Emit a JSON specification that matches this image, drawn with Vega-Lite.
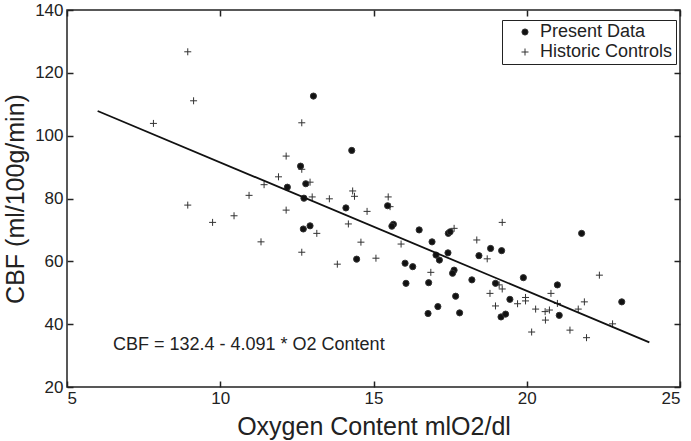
{
  "$schema": "https://vega.github.io/schema/vega-lite/v6.json",
  "width": 613,
  "height": 377,
  "autosize": "none",
  "padding": {"left": 67, "top": 10, "right": 11, "bottom": 54},
  "background": "white",
  "config": {
    "view": {"stroke": "#222", "strokeWidth": 1.5},
    "font": "Liberation Sans",
    "axis": {
      "grid": false,
      "domain": false,
      "tickColor": "#222",
      "tickWidth": 1.5,
      "tickSize": -6,
      "labelFont": "Liberation Sans",
      "labelFontSize": 17,
      "labelColor": "#222",
      "titleFont": "Liberation Sans",
      "titleFontSize": 25,
      "titleFontWeight": "normal",
      "titleColor": "#222"
    }
  },
  "layer": [
    {
      "data": {"values": [
        {"g": "Historic Controls", "x": 8.94, "y": 126.7},
        {"g": "Historic Controls", "x": 9.13, "y": 111.1},
        {"g": "Historic Controls", "x": 7.82, "y": 103.9},
        {"g": "Historic Controls", "x": 12.15, "y": 93.5},
        {"g": "Historic Controls", "x": 11.9, "y": 86.9},
        {"g": "Historic Controls", "x": 11.43, "y": 84.4},
        {"g": "Historic Controls", "x": 10.94, "y": 81.0},
        {"g": "Historic Controls", "x": 12.66, "y": 104.1},
        {"g": "Historic Controls", "x": 12.66, "y": 89.3},
        {"g": "Historic Controls", "x": 12.93, "y": 85.2},
        {"g": "Historic Controls", "x": 14.32, "y": 82.4},
        {"g": "Historic Controls", "x": 14.38, "y": 80.7},
        {"g": "Historic Controls", "x": 13.0, "y": 80.5},
        {"g": "Historic Controls", "x": 13.56, "y": 79.9},
        {"g": "Historic Controls", "x": 15.48, "y": 80.5},
        {"g": "Historic Controls", "x": 15.54, "y": 77.4},
        {"g": "Historic Controls", "x": 12.15, "y": 76.3},
        {"g": "Historic Controls", "x": 14.79, "y": 75.9},
        {"g": "Historic Controls", "x": 13.15, "y": 68.9},
        {"g": "Historic Controls", "x": 14.18, "y": 71.9},
        {"g": "Historic Controls", "x": 17.63, "y": 70.5},
        {"g": "Historic Controls", "x": 18.37, "y": 66.8},
        {"g": "Historic Controls", "x": 14.59, "y": 66.1},
        {"g": "Historic Controls", "x": 15.9, "y": 65.5},
        {"g": "Historic Controls", "x": 12.66, "y": 62.9},
        {"g": "Historic Controls", "x": 13.82, "y": 59.1},
        {"g": "Historic Controls", "x": 15.08, "y": 61.0},
        {"g": "Historic Controls", "x": 16.87, "y": 56.5},
        {"g": "Historic Controls", "x": 19.2, "y": 72.4},
        {"g": "Historic Controls", "x": 18.71, "y": 60.8},
        {"g": "Historic Controls", "x": 22.37, "y": 55.6},
        {"g": "Historic Controls", "x": 19.1, "y": 52.5},
        {"g": "Historic Controls", "x": 19.2, "y": 51.2},
        {"g": "Historic Controls", "x": 18.8, "y": 49.8},
        {"g": "Historic Controls", "x": 20.79, "y": 49.8},
        {"g": "Historic Controls", "x": 19.96, "y": 48.5},
        {"g": "Historic Controls", "x": 19.96, "y": 47.4},
        {"g": "Historic Controls", "x": 19.7, "y": 46.5},
        {"g": "Historic Controls", "x": 21.0, "y": 46.6},
        {"g": "Historic Controls", "x": 21.88, "y": 47.1},
        {"g": "Historic Controls", "x": 18.98, "y": 45.8},
        {"g": "Historic Controls", "x": 20.29, "y": 44.8},
        {"g": "Historic Controls", "x": 20.6, "y": 44.0},
        {"g": "Historic Controls", "x": 20.74, "y": 44.5},
        {"g": "Historic Controls", "x": 21.68, "y": 44.8},
        {"g": "Historic Controls", "x": 20.61, "y": 41.3},
        {"g": "Historic Controls", "x": 22.8, "y": 40.1},
        {"g": "Historic Controls", "x": 20.16, "y": 37.5},
        {"g": "Historic Controls", "x": 21.41, "y": 38.1},
        {"g": "Historic Controls", "x": 21.95, "y": 35.7},
        {"g": "Historic Controls", "x": 8.94, "y": 77.9},
        {"g": "Historic Controls", "x": 10.45, "y": 74.5},
        {"g": "Historic Controls", "x": 9.75, "y": 72.4},
        {"g": "Historic Controls", "x": 11.33, "y": 66.2},
        {"g": "Present Data", "x": 12.19, "y": 83.6},
        {"g": "Present Data", "x": 13.04, "y": 112.6},
        {"g": "Present Data", "x": 14.29, "y": 95.3},
        {"g": "Present Data", "x": 12.62, "y": 90.3},
        {"g": "Present Data", "x": 12.79, "y": 84.7},
        {"g": "Present Data", "x": 12.73, "y": 80.1},
        {"g": "Present Data", "x": 15.46, "y": 77.7},
        {"g": "Present Data", "x": 14.1, "y": 77.0},
        {"g": "Present Data", "x": 15.65, "y": 71.8},
        {"g": "Present Data", "x": 15.6, "y": 71.2},
        {"g": "Present Data", "x": 12.71, "y": 70.3},
        {"g": "Present Data", "x": 12.93, "y": 71.3},
        {"g": "Present Data", "x": 16.49, "y": 70.0},
        {"g": "Present Data", "x": 17.44, "y": 68.9},
        {"g": "Present Data", "x": 17.5, "y": 69.4},
        {"g": "Present Data", "x": 16.91, "y": 66.2},
        {"g": "Present Data", "x": 17.04, "y": 62.0},
        {"g": "Present Data", "x": 17.43, "y": 62.7},
        {"g": "Present Data", "x": 17.15, "y": 60.4},
        {"g": "Present Data", "x": 18.44, "y": 61.8},
        {"g": "Present Data", "x": 14.45, "y": 60.7},
        {"g": "Present Data", "x": 16.03, "y": 59.4},
        {"g": "Present Data", "x": 16.28, "y": 58.3},
        {"g": "Present Data", "x": 17.63, "y": 57.2},
        {"g": "Present Data", "x": 17.58, "y": 56.2},
        {"g": "Present Data", "x": 18.21, "y": 54.1},
        {"g": "Present Data", "x": 16.06, "y": 53.0},
        {"g": "Present Data", "x": 16.8, "y": 53.2},
        {"g": "Present Data", "x": 17.68, "y": 48.9},
        {"g": "Present Data", "x": 17.1, "y": 45.6},
        {"g": "Present Data", "x": 16.78, "y": 43.4},
        {"g": "Present Data", "x": 17.81, "y": 43.6},
        {"g": "Present Data", "x": 21.79, "y": 68.9},
        {"g": "Present Data", "x": 18.82, "y": 64.1},
        {"g": "Present Data", "x": 19.18, "y": 63.4},
        {"g": "Present Data", "x": 18.98, "y": 53.0},
        {"g": "Present Data", "x": 19.89, "y": 54.8},
        {"g": "Present Data", "x": 21.0, "y": 52.5},
        {"g": "Present Data", "x": 19.45, "y": 47.9},
        {"g": "Present Data", "x": 23.1, "y": 47.1},
        {"g": "Present Data", "x": 19.16, "y": 42.3},
        {"g": "Present Data", "x": 19.31, "y": 43.2},
        {"g": "Present Data", "x": 21.06, "y": 42.8}
      ]},
      "mark": {"type": "point", "filled": true, "stroke": "#333", "strokeWidth": 1, "opacity": 1},
      "encoding": {
        "x": {"field": "x", "type": "quantitative", "scale": {"domain": [5, 25], "nice": false, "zero": false},
              "axis": {"values": [5, 10, 15, 20, 25], "title": "Oxygen Content mlO2/dl", "labelPadding": 9, "titlePadding": 8}},
        "y": {"field": "y", "type": "quantitative", "scale": {"domain": [20, 140], "nice": false, "zero": false},
              "axis": {"values": [20, 40, 60, 80, 100, 120, 140], "title": "CBF (ml/100g/min)", "labelPadding": 10, "titlePadding": 6}},
        "shape": {"field": "g", "type": "nominal",
                  "scale": {"domain": ["Present Data", "Historic Controls"], "range": ["circle", "M-1,0H1M0,-1V1"]},
                  "legend": {"title": null, "orient": "none", "legendX": 435, "legendY": 10,
                             "strokeColor": "#222", "padding": 3, "rowPadding": 2,
                             "labelFontSize": 18, "labelFont": "Liberation Sans", "labelColor": "#222",
                             "symbolSize": 22, "symbolStrokeColor": "#333", "symbolStrokeWidth": 1,
                             "symbolOffset": 11, "labelOffset": 6, "fillColor": "white"}},
        "color": {"field": "g", "type": "nominal",
                  "scale": {"domain": ["Present Data", "Historic Controls"], "range": ["#111", "#444"]},
                  "legend": {"title": null, "orient": "none", "legendX": 435, "legendY": 10,
                             "strokeColor": "#222", "padding": 3, "rowPadding": 2,
                             "labelFontSize": 18, "labelFont": "Liberation Sans", "labelColor": "#222",
                             "symbolSize": 22, "symbolStrokeColor": "#333", "symbolStrokeWidth": 1,
                             "symbolOffset": 11, "labelOffset": 6, "fillColor": "white"}},
        "size": {"field": "g", "type": "nominal",
                 "scale": {"domain": ["Present Data", "Historic Controls"], "range": [38, 49]},
                 "legend": null}
      }
    },
    {
      "data": {"values": [{"x": 6, "y": 107.85}, {"x": 24, "y": 34.22}]},
      "mark": {"type": "line", "color": "#111", "strokeWidth": 1.8},
      "encoding": {
        "x": {"field": "x", "type": "quantitative", "axis": {"orient": "top", "values": [5, 10, 15, 20, 25], "labels": false, "title": null}},
        "y": {"field": "y", "type": "quantitative", "axis": {"orient": "right", "values": [20, 40, 60, 80, 100, 120, 140], "labels": false, "title": null}}
      }
    },
    {
      "data": {"values": [{"x": 6.5, "y": 33.4, "label": "CBF = 132.4 - 4.091 * O2 Content"}]},
      "mark": {"type": "text", "align": "left", "baseline": "middle", "fontSize": 18, "font": "Liberation Sans", "color": "#222"},
      "encoding": {
        "x": {"field": "x", "type": "quantitative", "axis": null},
        "y": {"field": "y", "type": "quantitative", "axis": null},
        "text": {"field": "label"}
      }
    }
  ],
  "resolve": {"axis": {"x": "independent", "y": "independent"}}
}
